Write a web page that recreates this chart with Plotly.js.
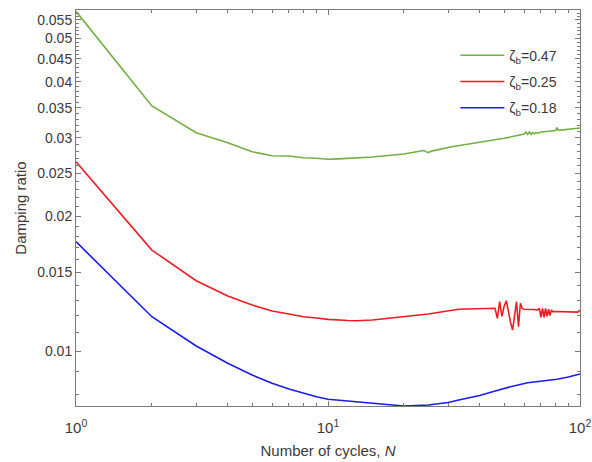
<!DOCTYPE html>
<html>
<head>
<meta charset="utf-8">
<script src="https://cdn.plot.ly/plotly-3.0.1.min.js"></script>
<style>
  html, body { margin: 0; padding: 0; background: #ffffff; }
  #chart { width: 592px; height: 462px; }
</style>
</head>
<body>
<div id="chart"></div>
<script>
// ---- Data ----
var nGreen = [1,2,3,4,5,6,7,8,9,10,11,12,15,20,23,24,25,26,31,40,50,60,61,62,63,64,65,66,67,68,69,70,80,81,82,90,100];
var zetaGreen = [0.0575,0.03532,0.03078,0.02923,0.02791,0.02734,0.02730,0.02706,0.02698,0.02684,0.02690,0.02698,0.02716,0.02758,0.02791,0.02808,0.02778,0.02803,0.02863,0.02934,0.02990,0.03057,0.03090,0.03050,0.03090,0.03050,0.03080,0.03060,0.03080,0.03070,0.03080,0.03089,0.03112,0.03160,0.03115,0.03130,0.03154];

var nRed = [1,2,3,4,5,6,7,8,9,10,12,13,15,20,25,33,40,45,46,47,48,49,50,51,52,53,54,55,56,57,58,59,60,65,68,69,70,71,72,73,74,75,76,77,78,80,90,98,100];
var zetaRed = [0.02651,0.01682,0.01436,0.01327,0.01267,0.01229,0.01210,0.01193,0.01185,0.01177,0.01170,0.01169,0.01173,0.01193,0.01210,0.01240,0.01245,0.01246,0.01246,0.01183,0.01289,0.01195,0.01260,0.01296,0.01220,0.01160,0.01114,0.01210,0.01289,0.01133,0.01279,0.01245,0.01240,0.01238,0.01236,0.01245,0.01190,0.01245,0.01190,0.01245,0.01195,0.01240,0.01200,0.01235,0.01225,0.01226,0.01222,0.01222,0.01235];

var nBlue = [1,2,3,4,5,6,7,8,9,10,13,15,20,25,30,33,40,45,53,62,70,81,90,100];
var zetaBlue = [0.01756,0.01193,0.01026,0.009386,0.008838,0.008468,0.008222,0.008044,0.007903,0.007798,0.007701,0.007630,0.007535,0.00757,0.00767,0.00777,0.007952,0.00811,0.008322,0.008494,0.008568,0.008643,0.008745,0.008884];

var seriesNames = ['\u03B6<sub>b</sub>=0.47', '\u03B6<sub>b</sub>=0.25', '\u03B6<sub>b</sub>=0.18'];

var yTickVals = [0.01,0.015,0.02,0.025,0.03,0.035,0.04,0.045,0.05,0.055];
var yTickText = ['0.01','0.015','0.02','0.025','0.03','0.035','0.04','0.045','0.05','0.055'];
var xTickVals = [1,10,100];
var xTickText = ['10<sup>0</sup>','10<sup>1</sup>','10<sup>2</sup>'];

// minor tick positions (axis decoration)
var yMinor = [];
for (var k = 8; k <= 57; k++) yMinor.push(k / 1000);
var xMinor = [];
[1,10].forEach(function (d) { for (var m = 2; m <= 9; m++) xMinor.push(m * d); });

var axisGray = '#7a7a7a';
var textGray = '#3a3a3a';

var traces = [
  { x: nGreen, y: zetaGreen, name: seriesNames[0], legendgroup: 'g1', mode: 'lines', line: { color: '#74ae45', width: 1.6 } },
  { x: nRed,   y: zetaRed,   name: seriesNames[1], legendgroup: 'g2', mode: 'lines', line: { color: '#ec1c24', width: 1.6 } },
  { x: nBlue,  y: zetaBlue,  name: seriesNames[2], legendgroup: 'g3', mode: 'lines', line: { color: '#1c1ce8', width: 1.6 } }
];

var layout = {
  width: 592, height: 462,
  margin: { l: 76, r: 12, t: 10, b: 56 },
  paper_bgcolor: '#ffffff', plot_bgcolor: '#ffffff',
  font: { family: 'Liberation Sans, Arial, sans-serif', size: 13, color: textGray },
  showlegend: true,
  legend: {
    x: 0.965, xanchor: 'right', y: 0.925, yanchor: 'top',
    bgcolor: 'rgba(255,255,255,0)', borderwidth: 0,
    font: { size: 14, color: textGray },
    itemwidth: 44,
    tracegroupgap: 5
  },
  xaxis: {
    type: 'log',
    range: [0, 2],
    tickmode: 'array', tickvals: xTickVals, ticktext: xTickText,
    ticks: 'inside', ticklen: 5, tickcolor: axisGray,
    showline: true, linecolor: axisGray, linewidth: 1, mirror: 'ticks',
    showgrid: false, zeroline: false,
    minor: { tickmode: 'array', tickvals: xMinor, ticks: 'inside', ticklen: 3, tickcolor: axisGray, showgrid: false },
    tickfont: { size: 15, color: textGray },
    ticklabelstandoff: 8,
    ticklabeloverflow: 'allow',
    title: { text: 'Number of cycles, <i>N</i>', font: { size: 15, color: textGray }, standoff: 10 }
  },
  yaxis: {
    type: 'log',
    range: [Math.log10(0.007534), Math.log10(0.0579)],
    tickmode: 'array', tickvals: yTickVals, ticktext: yTickText,
    ticks: 'inside', ticklen: 5, tickcolor: axisGray,
    showline: true, linecolor: axisGray, linewidth: 1, mirror: 'ticks',
    showgrid: false, zeroline: false,
    minor: { tickmode: 'array', tickvals: yMinor, ticks: 'inside', ticklen: 3, tickcolor: axisGray, showgrid: false },
    tickfont: { size: 14, color: textGray },
    title: { text: 'Damping ratio', font: { size: 15, color: textGray }, standoff: 6 }
  }
};

Plotly.newPlot('chart', traces, layout, { displayModeBar: false, staticPlot: true });
</script>
</body>
</html>
